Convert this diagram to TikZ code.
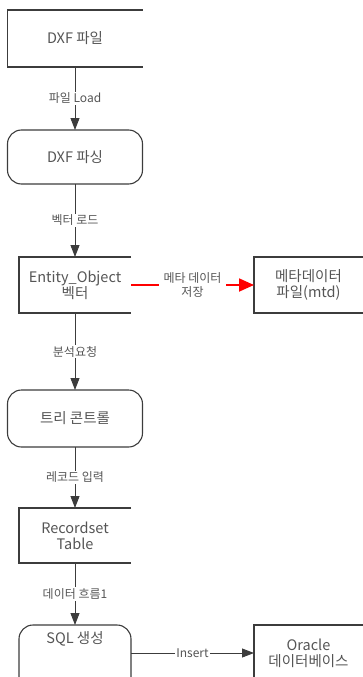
\documentclass[tikz,border=0pt]{standalone}
\usepackage{fontspec}
\setmainfont{Noto Sans CJK KR}
\usetikzlibrary{positioning}
\usetikzlibrary{arrows.meta}

\definecolor{linegray}{RGB}{60,60,60}
\definecolor{textgray}{RGB}{85,85,85}

\begin{document}
\begin{tikzpicture}
[   x=1pt, y=-1pt,
    on grid,
    font = \fontsize{14.5}{16}\selectfont,
    text = textgray,
    inner sep=1pt,
    outer sep=0pt,
    storebox/.style={minimum width=112pt, minimum height=56pt, align=center},
    widebox/.style={minimum width=135pt, minimum height=57pt},
    roundbox/.style={draw=linegray, line width=1.1pt, rounded corners=14pt},
    boxline/.style={draw=linegray, line width=1.1pt},
    flow/.style={draw=linegray, line width=0.9pt, -{Triangle[width=9pt,length=12pt]}},
    redflow/.style={draw=red, line width=1.8pt, -{Triangle[width=13pt,length=15pt]}},
    flowlabel/.style={fill=white, inner sep=1.5pt, font=\fontsize{12}{13.5}\selectfont, align=center}
]
\useasboundingbox (0,0) rectangle (363,677);
\clip (0,0) rectangle (363,677);

% main column
\node (dxf) [widebox] at (75,38.5) {DXF 파일};
\node (parse) [widebox, roundbox, minimum height=54pt, below=118.5pt of dxf] {DXF 파싱};
\node (entity) [storebox, below=128pt of parse] {Entity\_Object\\벡터};
\node (tree) [widebox, roundbox, below=133.5pt of entity] {트리 콘트롤};
\node (rec) [storebox, minimum height=55pt, below=117pt of tree] {Recordset\\Table};
\node (sql) [roundbox, anchor=north, minimum width=112pt, inner sep=0pt,
             text height=18pt, text depth=60pt] at (75,625) {SQL 생성};

% side stores
\node (meta) [storebox, minimum width=109pt, right=233.5pt of entity] {메타데이터\\파일(mtd)};
\node (oracle) [storebox, minimum width=109pt, anchor=north] at (308.5,625) {Oracle\\데이터베이스};

% open sided boxes
\draw[boxline] (dxf.north east) -- (dxf.north west) -- (dxf.south west) -- (dxf.south east);
\draw[boxline] (entity.north east) -- (entity.north west) -- (entity.south west) -- (entity.south east);
\draw[boxline] (rec.north east) -- (rec.north west) -- (rec.south west) -- (rec.south east);
\draw[boxline] (meta.north east) -- (meta.north west) -- (meta.south west) -- (meta.south east);
\draw[boxline] (oracle.north east) -- (oracle.north west) -- (oracle.south west) -- (oracle.south east);

\draw[flow] (dxf) -- node[flowlabel] {파일 Load} (parse);
\draw[flow] (parse) -- node[flowlabel] {벡터 로드} (entity);
\draw[flow] (entity) -- node[flowlabel] {분석요청} (tree);
\draw[flow] (tree) -- node[flowlabel] {레코드 입력} (rec);
\draw[flow] (rec) -- node[flowlabel] {데이터 흐름1} (sql);
\draw[redflow] (entity) -- node[flowlabel, inner xsep=5pt] {메타 데이터\\저장} (meta);
\draw[flow] (sql.east |- oracle.west) -- node[flowlabel, inner xsep=1pt] {Insert} (oracle.west);
\end{tikzpicture}
\end{document}
